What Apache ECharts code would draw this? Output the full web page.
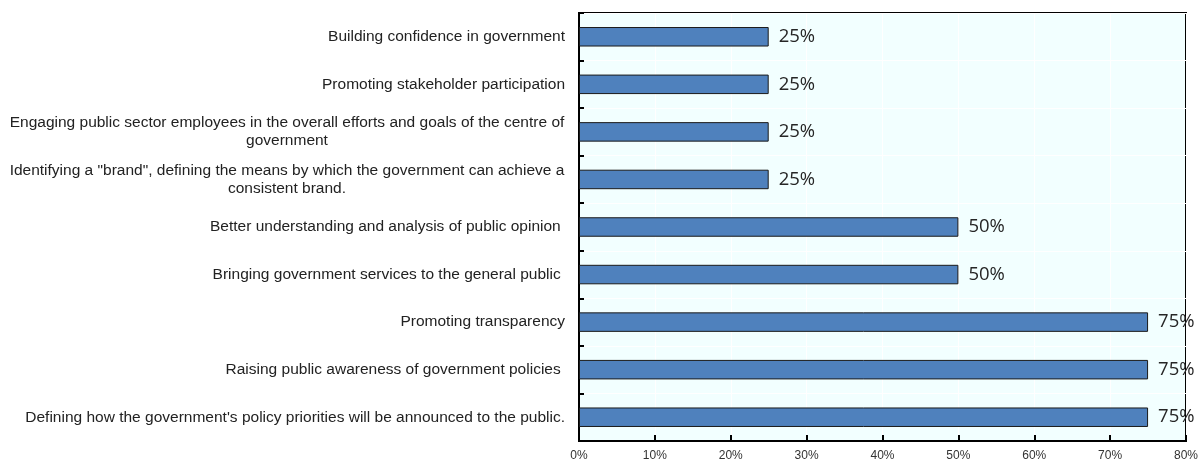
<!DOCTYPE html>
<html>
<head>
<meta charset="utf-8">
<script src="https://cdn.jsdelivr.net/npm/echarts@6/dist/echarts.min.js"></script>
<style>
  html, body { margin: 0; padding: 0; background: #ffffff; }
  #chart { width: 1200px; height: 465px; }
</style>
</head>
<body>
<div id="chart"></div>
<script>
// Objectives of government communication, share of respondents
const categories = [
  'Building confidence in government',
  'Promoting stakeholder participation',
  'Engaging public sector employees in the overall efforts and goals of the centre of\ngovernment',
  'Identifying a "brand", defining the means by which the government can achieve a\nconsistent brand.',
  'Better understanding and analysis of public opinion ',
  'Bringing government services to the general public ',
  'Promoting transparency',
  'Raising public awareness of government policies ',
  "Defining how the government's policy priorities will be announced to the public."
];
const shares = [25, 25, 25, 25, 50, 50, 75, 75, 75];
const xTicks = [0, 10, 20, 30, 40, 50, 60, 70, 80];

const labelFont = '"Liberation Sans", Arial, sans-serif';
const labelSize = 15.5;

// measure the widest line of a multi-line label so its lines can be centred
const ctx = document.createElement('canvas').getContext('2d');
ctx.font = labelSize + 'px ' + labelFont;
function widest(text) {
  return Math.max(...text.split('\n').map(l => ctx.measureText(l).width));
}
const richStyles = {};
categories.forEach((c, i) => {
  if (c.indexOf('\n') >= 0) {
    richStyles['m' + i] = {
      width: Math.ceil(widest(c)) + 1,
      align: 'center',
      fontFamily: labelFont,
      fontSize: labelSize,
      color: '#222',
      lineHeight: 18
    };
  }
});

const chart = echarts.init(document.getElementById('chart'), null, { renderer: 'canvas' });
chart.setOption({
  animation: false,
  grid: {
    left: 579, right: 14, top: 13, bottom: 24,
    outerBoundsMode: 'none',
    containLabel: false,
    show: true,
    backgroundColor: '#f2ffff',
    borderColor: '#000',
    borderWidth: 2
  },
  xAxis: {
    type: 'value',
    min: xTicks[0],
    max: xTicks[xTicks.length - 1],
    interval: 10,
    axisLine: { show: true, lineStyle: { color: '#000', width: 2 } },
    axisTick: { show: true, inside: true, length: 6, lineStyle: { color: '#000', width: 2 } },
    splitLine: { show: true, lineStyle: { color: '#ffffff', width: 1 } },
    axisLabel: {
      formatter: v => v + '%',
      fontFamily: labelFont,
      fontSize: 12,
      color: '#333',
      margin: 9
    }
  },
  yAxis: {
    type: 'category',
    data: categories,
    inverse: true,
    axisLine: { show: true, lineStyle: { color: '#000', width: 2 } },
    axisTick: { show: true, inside: true, length: 5, lineStyle: { color: '#000', width: 2 } },
    splitLine: { show: true, lineStyle: { color: '#ffffff', width: 1 } },
    axisLabel: {
      margin: 14,
      fontFamily: labelFont,
      fontSize: labelSize,
      color: '#222',
      lineHeight: 18,
      formatter: (v, i) => (v.indexOf('\n') >= 0 ? '{m' + i + '|' + v + '}' : v),
      rich: richStyles
    }
  },
  series: [{
    type: 'bar',
    data: shares,
    barWidth: '41%',
    itemStyle: { color: '#4f81bd', borderColor: '#1a1a1a', borderWidth: 1 },
    label: {
      show: true,
      position: 'right',
      distance: 10,
      formatter: p => p.value + '%',
      fontFamily: '"Open Sans", "Noto Sans", sans-serif',
      fontSize: 18.5,
      color: '#262626'
    }
  }]
});
</script>
</body>
</html>
